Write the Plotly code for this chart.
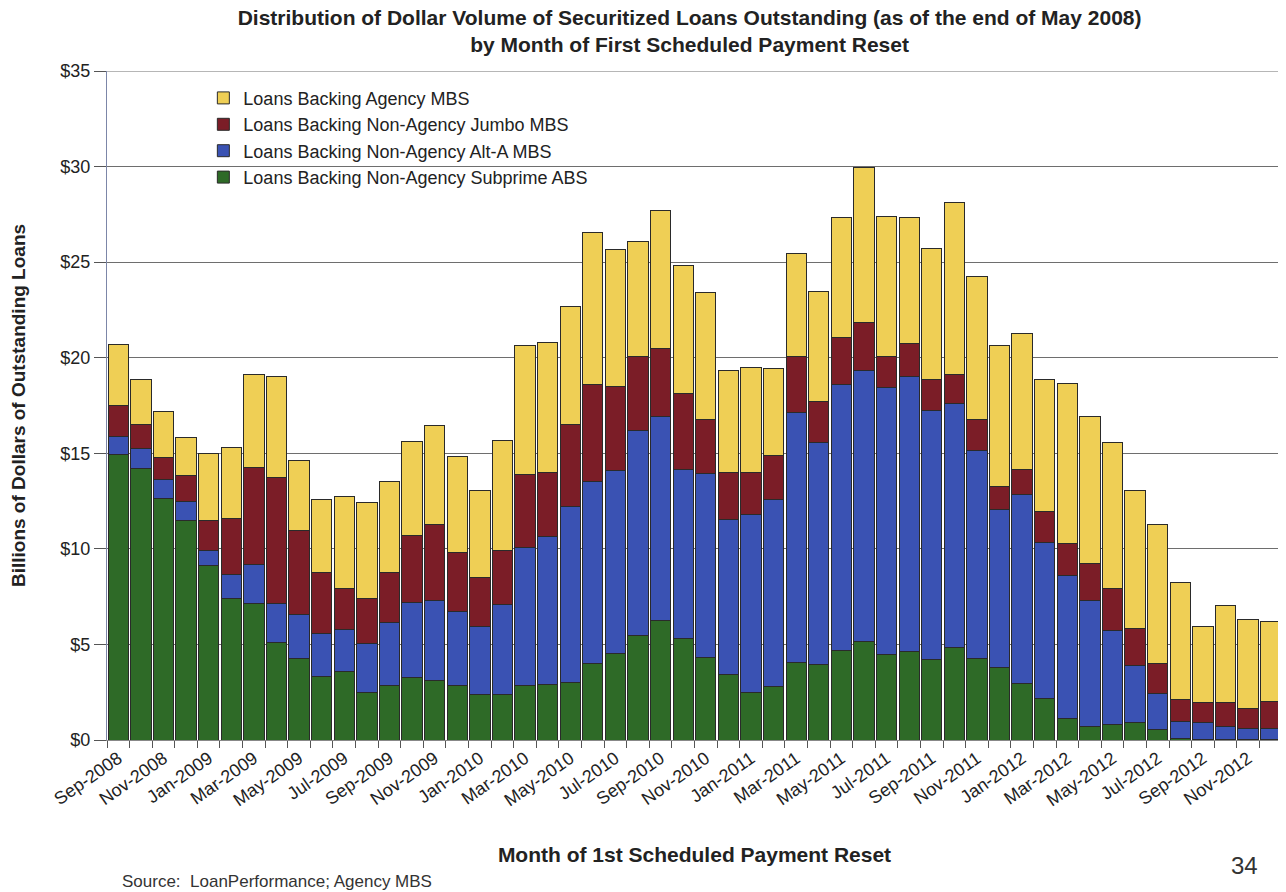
import plotly.graph_objects as go

months = [
    "Sep-2008", "Oct-2008", "Nov-2008", "Dec-2008",
    "Jan-2009", "Feb-2009", "Mar-2009", "Apr-2009", "May-2009", "Jun-2009",
    "Jul-2009", "Aug-2009", "Sep-2009", "Oct-2009", "Nov-2009", "Dec-2009",
    "Jan-2010", "Feb-2010", "Mar-2010", "Apr-2010", "May-2010", "Jun-2010",
    "Jul-2010", "Aug-2010", "Sep-2010", "Oct-2010", "Nov-2010", "Dec-2010",
    "Jan-2011", "Feb-2011", "Mar-2011", "Apr-2011", "May-2011", "Jun-2011",
    "Jul-2011", "Aug-2011", "Sep-2011", "Oct-2011", "Nov-2011", "Dec-2011",
    "Jan-2012", "Feb-2012", "Mar-2012", "Apr-2012", "May-2012", "Jun-2012",
    "Jul-2012", "Aug-2012", "Sep-2012", "Oct-2012", "Nov-2012", "Dec-2012",
]

# Billions of dollars, per segment (stacked bottom to top)
subprime = [14.93, 14.20, 12.64, 11.46, 9.11, 7.40, 7.15, 5.09, 4.27, 3.30,
            3.58, 2.47, 2.85, 3.26, 3.09, 2.83, 2.40, 2.40, 2.83, 2.92,
            3.00, 4.00, 4.50, 5.45, 6.25, 5.30, 4.30, 3.42, 2.50, 2.80,
            4.07, 3.97, 4.70, 5.15, 4.47, 4.64, 4.21, 4.83, 4.25, 3.78,
            2.97, 2.15, 1.15, 0.72, 0.80, 0.93, 0.56, 0.06, 0.03, 0.02,
            0.02, 0.02]
alt_a = [0.96, 1.04, 0.97, 1.04, 0.82, 1.25, 2.02, 2.06, 2.28, 2.29,
         2.22, 2.56, 3.28, 3.91, 4.20, 3.91, 3.55, 4.68, 7.24, 7.72,
         9.20, 9.55, 9.60, 10.75, 10.65, 8.85, 9.65, 8.13, 9.30, 9.78,
         13.07, 11.61, 13.89, 14.18, 13.95, 14.38, 13.05, 12.78, 10.92, 8.26,
         9.85, 8.16, 7.48, 6.60, 4.95, 2.99, 1.87, 0.92, 0.87, 0.70,
         0.56, 0.56]
jumbo = [1.61, 1.25, 1.15, 1.32, 1.55, 2.96, 5.10, 6.58, 4.42, 3.19,
         2.15, 2.38, 2.64, 3.51, 3.96, 3.07, 2.56, 2.85, 3.83, 3.34,
         4.29, 5.05, 4.40, 3.85, 3.60, 3.97, 2.84, 2.46, 2.21, 2.29,
         2.94, 2.15, 2.47, 2.51, 1.63, 1.72, 1.62, 1.53, 1.60, 1.21,
         1.31, 1.63, 1.64, 1.93, 2.17, 1.91, 1.57, 1.13, 1.04, 1.26,
         1.09, 1.42]
agency = [3.21, 2.36, 2.43, 2.01, 3.50, 3.67, 4.83, 5.30, 3.67, 3.82,
          4.78, 5.00, 4.75, 4.96, 5.21, 5.00, 4.56, 5.75, 6.73, 6.82,
          6.21, 7.95, 7.15, 6.05, 7.20, 6.68, 6.61, 5.32, 5.46, 4.56,
          5.36, 5.75, 6.26, 8.10, 7.33, 6.60, 6.82, 8.98, 7.50, 7.40,
          7.16, 6.91, 8.38, 7.68, 7.64, 7.24, 7.25, 6.12, 3.98, 5.05,
          4.63, 4.20]

series_names = [
    "Loans Backing Non-Agency Subprime ABS",
    "Loans Backing Non-Agency Alt-A MBS",
    "Loans Backing Non-Agency Jumbo MBS",
    "Loans Backing Agency MBS",
]
series_values = [subprime, alt_a, jumbo, agency]
series_colors = ["#2E6A27", "#3A52B3", "#7B1D27", "#EFCF55"]

tick_text = [m if i % 2 == 0 else "" for i, m in enumerate(months)]

FONT = "Liberation Sans, Arial, sans-serif"

fig = go.Figure()
for name, vals, col in zip(series_names, series_values, series_colors):
    fig.add_trace(go.Bar(
        x=months, y=vals, name=name,
        marker=dict(color=col, line=dict(color="#2a2a2a", width=1)),
    ))

fig.update_layout(
    barmode="stack",
    bargap=0.1,
    width=1286, height=892,
    paper_bgcolor="white", plot_bgcolor="white",
    margin=dict(l=99, r=12, t=63, b=160, autoexpand=False),
    font=dict(family=FONT, size=15, color="#222"),
    title=dict(
        text="<b>Distribution of Dollar Volume of Securitized Loans Outstanding (as of the end of May 2008)</b><br><b>by Month of First Scheduled Payment Reset</b>",
        x=0.53, xanchor="center", y=0.981, yanchor="top",
        font=dict(family=FONT, size=21, color="#222"),
    ),
    legend=dict(
        x=0.082, y=0.987, xanchor="left", yanchor="top",
        traceorder="reversed",
        font=dict(family=FONT, size=18, color="#222"),
        bgcolor="rgba(0,0,0,0)",
    ),
    xaxis=dict(
        type="category",
        tickmode="array", tickvals=months, ticktext=tick_text,
        tickson="boundaries",
        tickangle=-35,
        ticks="outside", ticklen=7, tickcolor="#555",
        showline=True, linecolor="#888", linewidth=1,
        showgrid=False,
        tickfont=dict(family=FONT, size=18, color="#222"),
        title=dict(text="<b>Month of 1st Scheduled Payment Reset</b>",
                   font=dict(family=FONT, size=21, color="#222"), standoff=38),
        range=[-0.5, len(months) - 0.5],
    ),
    yaxis=dict(
        range=[0, 35], dtick=5, tickprefix="$",
        ticks="outside", ticklen=12, tickcolor="#555",
        showline=True, linecolor="#7c86a8", linewidth=1,
        showgrid=True, gridcolor="#6e6e6e", gridwidth=1,
        zeroline=False,
        tickfont=dict(family=FONT, size=18, color="#222"),
        title=dict(text="<b>Billions of Dollars of Outstanding Loans</b>",
                   font=dict(family=FONT, size=19, color="#222"), standoff=30),
    ),
)

# top border line of the plot area at $35
fig.add_shape(type="line", xref="paper", yref="y", x0=0, x1=1, y0=35, y1=35,
              line=dict(color="#6e6e6e", width=1))

fig.add_annotation(text="Source:  LoanPerformance; Agency MBS",
                   xref="paper", yref="paper", x=0.011, y=-0.212,
                   xanchor="left", yanchor="middle", showarrow=False,
                   font=dict(family=FONT, size=17, color="#333"))
fig.add_annotation(text="34",
                   xref="paper", yref="paper", x=0.968, y=-0.188,
                   xanchor="center", yanchor="middle", showarrow=False,
                   font=dict(family=FONT, size=24, color="#333"))

fig.write_html("out.html")
